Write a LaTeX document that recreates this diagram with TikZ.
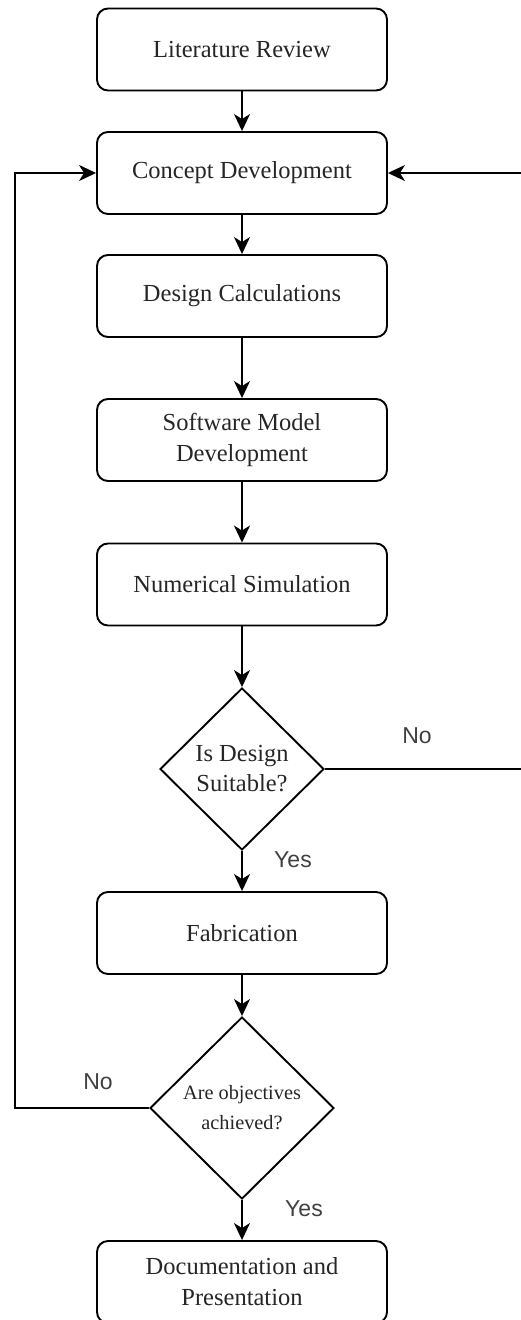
\documentclass[tikz,border=0pt]{standalone}
\usepackage{fontspec}
\setmainfont{Liberation Serif}
\newfontfamily\labelfont{Liberation Sans}
\usetikzlibrary{shapes.geometric,arrows.meta}
\begin{document}
\begin{tikzpicture}[x=1pt,y=-1pt,
  procbox/.style={draw, line width=1.9pt, rounded corners=11pt, minimum width=290pt, minimum height=82pt, inner sep=0pt, align=center, font=\fontsize{24.5}{31}\selectfont, text=black!85},
  decbox/.style={draw, line width=1.9pt, diamond, inner sep=0pt, align=center, font=\fontsize{24.5}{30}\selectfont, text=black!85},
  conn/.style={line width=2pt, -{Stealth[length=17pt,width=16pt,inset=5pt]}},
  lbl/.style={font=\labelfont\fontsize{23}{26}\selectfont, text=black!75, inner sep=0pt}
]
\useasboundingbox (0,0) rectangle (521,1320);
\node[procbox] (lr) at (242,49.5) {Literature Review};
\node[procbox] (cd) at (242,173) {Concept Development};
\node[procbox] (dc) at (242,296) {Design Calculations};
\node[procbox] (sm) at (242,440) {Software Model\\Development};
\node[procbox] (ns) at (242,584.5) {Numerical Simulation};
\node[decbox, minimum width=164pt, minimum height=162pt] (d1) at (242,769) {Is Design\\Suitable?};
\node[procbox] (fab) at (242,933) {Fabrication};
\node[decbox, minimum width=184pt, minimum height=182pt, font=\fontsize{20.3}{30}\selectfont] (d2) at (242,1108) {Are objectives\\achieved?};
\node[procbox] (doc) at (242,1282) {Documentation and\\Presentation};

\coordinate (rt) at (524,769);
\coordinate (rb) at (524,173);
\coordinate (lt) at (15,1108);
\coordinate (lb) at (15,173);

\draw[conn] (lr) -- (cd);
\draw[conn] (cd) -- (dc);
\draw[conn] (dc) -- (sm);
\draw[conn] (sm) -- (ns);
\draw[conn] (ns) -- (d1);
\draw[conn] (d1) -- (fab);
\draw[conn] (fab) -- (d2);
\draw[conn] (d2) -- (doc);
\draw[conn] (d1.east) -- (rt) -- (rb) -- (cd.east);
\draw[conn] (d2.west) -- (lt) -- (lb) -- (cd.west);

\node[lbl] (no1) at (417,736) {No};
\node[lbl] (yes1) at (293,860) {Yes};
\node[lbl] (no2) at (98,1082) {No};
\node[lbl] (yes2) at (304,1209) {Yes};
\end{tikzpicture}
\end{document}
